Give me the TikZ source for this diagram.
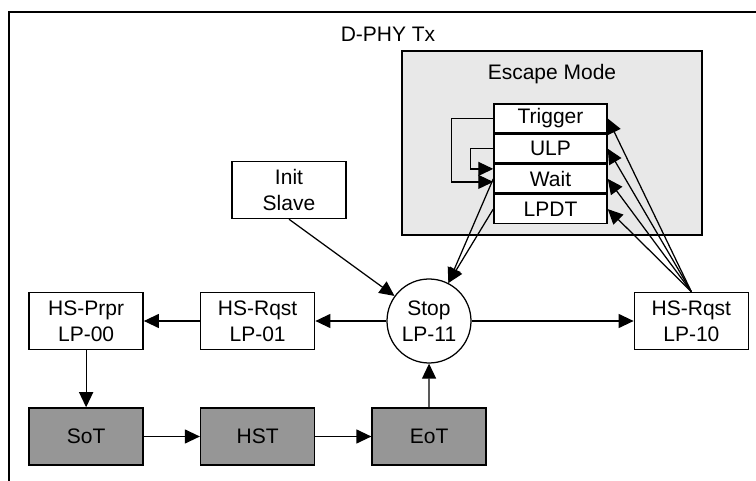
\documentclass[tikz,border=0pt]{standalone}
\usepackage{fontspec}
\setmainfont{Liberation Sans}
\usepackage{tikz}
\usetikzlibrary{positioning}
\usetikzlibrary{arrows.meta}
\usepackage{xcolor}
\definecolor{hsgray}{RGB}{150,150,150}
\definecolor{escgray}{RGB}{232,232,232}

\begin{document}
\begin{tikzpicture}[x=1pt, y=-1pt, >={Triangle[length=15pt, width=14pt]},
    every node/.style = {font=\fontsize{21}{26}\selectfont, align=center, inner sep=0pt},
    state/.style = {draw, line width=1.5pt, rectangle, minimum width=114pt, minimum height=57pt},
    hsstate/.style = {state, fill=hsgray},
    substate/.style = {draw, line width=1.5pt, fill=white, minimum width=113pt, minimum height=28.7pt},
    link/.style = {->, line width=1.25pt}
    ]
    \useasboundingbox (0,0) rectangle (756,481);
    \draw[line width=1.5pt] (756,12) -- (9,12) -- (9,481);
    \node (tx) at (388,34) {D-PHY Tx};
    \node (esc) [draw, line width=1.5pt, fill=escgray, minimum width=300pt, minimum height=184pt] at (552,143) {};
    \node (esctitle) at (552,74) {Escape Mode};

    \node (trig) [substate] at (550.5,118.5) {Trigger};
    \node (ulp) [substate, below=0pt of trig] {ULP};
    \node (wait) [substate, below=0pt of ulp] {Wait};
    \node (lpdt) [substate, below=0pt of wait] {LPDT};

    \node (stop) [draw, circle, line width=1.25pt, fill=white, minimum size=84pt] at (429,321) {Stop\\LP-11};
    \node (lp01) [state, left=71pt of stop] {HS-Rqst\\LP-01};
    \node (prpr) [state, left=56pt of lp01] {HS-Prpr\\LP-00};
    \node (sot) [hsstate, below=57pt of prpr] {SoT};
    \node (hst) [hsstate, right=56pt of sot] {HST};
    \node (eot) [hsstate, right=56pt of hst] {EoT};
    \node (lp10) [state, right=162pt of stop] {HS-Rqst\\LP-10};
    \node (init) [state] at (289,190) {Init\\Slave};

    \draw[link] (trig.west) -- ++(-42pt,0) |- ([yshift=-3pt]wait.west);
    \draw[link] (ulp.west) -- ++(-23pt,0) |- ([yshift=10pt]wait.west);
    \draw[link] (wait.west) -- (stop.63);
    \draw[link] (lpdt.west) -- (stop.63);
    \draw[link] (lp10.north) -- (trig.east);
    \draw[link] (lp10.north) -- (ulp.east);
    \draw[link] (lp10.north) -- (wait.east);
    \draw[link] (lp10.north) -- (lpdt.east);
    \draw[link] (init.south) -- (stop);
    \draw[link] (stop) -- (lp01);
    \draw[link] (lp01) -- (prpr);
    \draw[link] (prpr) -- (sot);
    \draw[link] (sot) -- (hst);
    \draw[link] (hst) -- (eot);
    \draw[link] (eot) -- (stop);
    \draw[link] (stop) -- (lp10);
    \end{tikzpicture}
\end{document}
